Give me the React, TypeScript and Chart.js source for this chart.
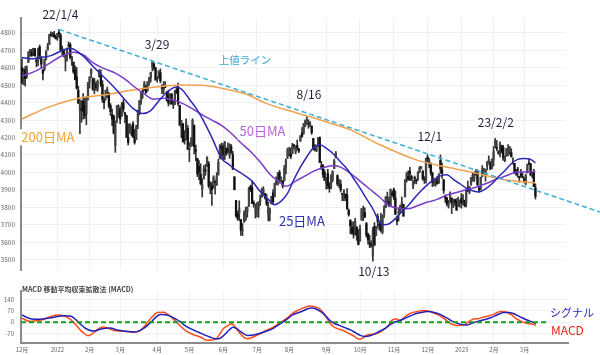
import React, { useEffect, useRef } from 'react';
import { Chart, registerables } from 'chart.js';
Chart.register(...registerables);

const FONT = "'Noto Sans CJK JP', 'Noto Sans', sans-serif";

// ---- Daily candles (S&P 500, 2021/12/1 – 2023/3/10), x = trading-day index ----
const opens = [
  4602,4504,4590,4549,4631,4690,4691,4688,4710,4642,4637,4720,4652,4587,4595,4650,4703,4733,4795,4788,4795,4776,
  4778,4804,4787,4693,4698,4655,4669,4729,4733,4637,4633,4588,4548,4471,4357,4366,4409,4380,4337,4431,
  4519,4566,4536,4482,4505,4480,4548,4554,4506,4413,4430,4464,4456,4385,4333,4324,4155,4298,4354,
  4363,4323,4401,4342,4327,4202,4224,4253,4279,4202,4188,4288,4345,4407,4462,4470,4493,4469,4523,4541,4603,4624,4599,
  4540,4547,4572,4495,4475,4495,4462,4437,4395,4449,4385,4390,4473,4490,4385,4256,4279,4187,4222,4253,
  4131,4159,4181,4271,4129,4081,4035,3990,3903,3963,4013,4052,4051,3899,3927,3920,3943,3929,3985,4078,4151,
  4149,4095,4137,4134,4097,4148,4102,3975,3839,3763,3765,3729,3665,3715,3733,3775,3805,3920,3913,3825,3785,
  3782,3792,3831,3858,3888,3880,3851,3762,3764,3820,3883,3860,3935,3955,4000,3965,3953,3951,4026,4087,
  4113,4105,4107,4155,4115,4155,4134,4181,4227,4225,4269,4290,4281,4273,4266,4195,4133,4126,4154,4199,4034,4041,4000,
  3936,3994,3930,3910,3959,4022,4084,3982,3940,3933,3880,3849,3875,3872,3782,3727,3682,3686,3651,3687,3633,
  3609,3726,3753,3771,3706,3647,3595,3590,3520,3690,3638,3746,3696,3706,3657,3762,3799,3825,3834,3809,3881,
  3901,3853,3733,3767,3780,3818,3817,3859,3964,3978,4007,3977,3919,3967,3957,3956,4001,4024,4005,3965,3957,
  4087,4040,4053,3996,3933,3947,3954,3940,4069,4015,3959,3864,3854,3810,3839,3853,3816,3843,3829,3805,3830,
  3853,3840,3840,3823,3910,3889,3932,3977,3961,3999,4003,3912,3910,3979,4001,3982,4037,4054,4050,4021,
  4070,4158,4137,4119,4105,4153,4144,4069,4096,4126,4119,4114,4078,4052,4001,4018,3973,3992,3977,
  3964,3938,3999,4055,4048,3987,3998,3912,
];
const highs = [
  4652,4595,4608,4612,4694,4706,4706,4713,4711,4660,4713,4731,4666,4591,4651,4698,4741,4791,4807,4804,4809,4787,
  4797,4819,4797,4725,4708,4673,4714,4749,4744,4666,4633,4612,4603,4495,4418,4412,4453,4428,4432,4516,
  4550,4595,4543,4540,4521,4531,4590,4589,4527,4427,4472,4490,4456,4395,4363,4329,4295,4385,4388,
  4375,4401,4417,4343,4327,4277,4279,4268,4291,4247,4272,4358,4412,4465,4481,4522,4501,4520,4546,4575,4637,4627,4604,
  4550,4583,4594,4504,4521,4521,4464,4472,4453,4453,4411,4471,4489,4513,4386,4300,4280,4240,4308,4269,
  4169,4200,4308,4271,4157,4081,4068,4050,3964,4039,4046,4090,4063,3946,3944,3981,3956,3999,4075,4158,4169,
  4166,4177,4142,4169,4164,4160,4120,3975,3839,3778,3837,3729,3707,3779,3801,3803,3913,3927,3946,3837,3818,
  3826,3832,3870,3910,3918,3880,3874,3829,3796,3863,3902,3939,3975,3999,4012,3975,3953,4040,4078,4140,
  4144,4140,4167,4161,4152,4186,4138,4211,4257,4280,4301,4325,4302,4292,4266,4195,4159,4156,4200,4204,4063,4045,4015,
  3970,4018,3942,3987,4010,4076,4119,3986,3961,3956,3880,3900,3877,3907,3790,3727,3716,3717,3736,3687,3672,
  3698,3793,3807,3797,3713,3652,3640,3608,3685,3712,3689,3762,3719,3765,3757,3810,3862,3887,3859,3905,3893,
  3911,3894,3750,3796,3813,3859,3817,3959,4002,4009,4029,3984,3954,3979,3962,4004,4034,4035,4013,3976,4080,
  4101,4080,4053,4002,3957,3966,3977,3991,4100,4053,3959,3870,3855,3839,3889,3853,3846,3847,3849,3858,3840,
  3879,3873,3840,3907,3950,3919,3970,3998,4003,4016,4015,3923,3973,4039,4024,4019,4061,4095,4063,4077,
  4149,4195,4183,4125,4176,4156,4156,4095,4138,4159,4148,4136,4081,4052,4017,4029,3978,4018,3997,
  3972,3990,4048,4079,4051,4000,4018,3934,
];
const lows = [
  4510,4504,4495,4540,4631,4667,4667,4671,4666,4606,4612,4651,4600,4531,4583,4645,4703,4733,4780,4778,4775,4766,
  4758,4774,4700,4671,4663,4582,4638,4718,4651,4614,4568,4531,4477,4395,4222,4288,4305,4309,4273,4414,
  4484,4544,4470,4451,4471,4465,4548,4492,4402,4365,4415,4429,4370,4327,4268,4221,4115,4286,4315,
  4279,4323,4345,4285,4200,4157,4224,4209,4200,4162,4187,4251,4330,4390,4425,4469,4455,4465,4501,4518,4582,4588,4530,
  4518,4539,4514,4452,4450,4485,4408,4381,4392,4392,4367,4390,4452,4385,4268,4200,4175,4162,4188,4131,
  4062,4147,4152,4106,4067,3976,3959,3928,3859,3963,3983,4033,3911,3877,3810,3909,3875,3925,3985,4078,4083,
  4073,4074,4098,4110,4080,4107,4017,3900,3743,3725,3723,3639,3637,3715,3723,3743,3805,3889,3820,3800,3738,
  3745,3742,3810,3858,3876,3847,3809,3722,3721,3818,3818,3860,3929,3927,3938,3946,3911,3951,3992,4079,
  4096,4079,4107,4135,4107,4128,4113,4177,4201,4219,4262,4277,4253,4262,4218,4129,4124,4119,4148,4057,4017,3971,3954,
  3904,3907,3886,3906,3945,4022,4083,3923,3914,3887,3838,3838,3837,3789,3749,3648,3644,3623,3640,3610,3584,
  3604,3726,3723,3739,3628,3588,3568,3571,3491,3579,3638,3679,3668,3657,3647,3741,3799,3825,3803,3809,3863,
  3843,3758,3699,3721,3765,3787,3749,3859,3944,3956,3953,3954,3907,3935,3934,3956,3998,4020,3955,3937,3938,
  4059,4026,3984,3918,3922,3921,3933,3937,3994,3965,3879,3828,3807,3795,3828,3764,3798,3809,3783,3805,3801,
  3795,3815,3802,3802,3890,3877,3925,3950,3947,3984,3926,3886,3899,3974,3990,3949,4014,4048,4017,4021,
  4037,4141,4124,4104,4089,4111,4069,4061,4092,4095,4103,4089,4047,3995,3982,3972,3944,3973,3968,
  3939,3928,3996,4044,3980,3969,3918,3847,
];
const closes = [
  4513,4577,4538,4592,4686,4701,4668,4712,4669,4635,4710,4669,4621,4568,4649,4697,4726,4791,4786,4793,4778,4766,
  4797,4794,4701,4696,4677,4670,4713,4726,4659,4662,4577,4533,4483,4398,4410,4357,4350,4326,4432,4516,
  4546,4589,4477,4501,4484,4522,4587,4504,4419,4401,4472,4475,4380,4349,4305,4226,4288,4385,4374,
  4306,4387,4363,4329,4201,4171,4278,4260,4204,4173,4262,4357,4412,4463,4461,4512,4456,4520,4543,4575,4632,4602,4530,
  4546,4583,4525,4481,4500,4488,4413,4397,4447,4392,4392,4463,4459,4394,4272,4296,4175,4183,4288,4132,
  4155,4175,4300,4147,4123,3991,4001,3935,3930,4024,4008,4088,3923,3901,3901,3974,3941,3979,4058,4158,4132,
  4101,4177,4109,4121,4161,4116,4018,3901,3750,3735,3790,3667,3675,3765,3760,3796,3912,3900,3822,3819,3785,
  3825,3831,3845,3903,3899,3855,3819,3801,3790,3863,3831,3937,3960,3999,3962,3967,3921,4024,4072,4130,
  4119,4091,4155,4152,4145,4140,4122,4210,4207,4280,4297,4305,4275,4284,4228,4138,4128,4141,4200,4058,4031,3986,3955,
  3967,3924,3909,3980,4006,4067,4110,3933,3946,3901,3873,3900,3856,3790,3758,3693,3655,3647,3720,3640,3586,
  3678,3791,3783,3745,3640,3612,3589,3577,3670,3583,3677,3720,3695,3666,3753,3797,3859,3831,3808,3901,3872,
  3856,3760,3720,3771,3807,3828,3749,3957,3993,3957,3992,3959,3947,3965,3950,4003,4027,4026,3964,3958,4080,
  4077,4072,3999,3942,3933,3964,3934,3991,4019,3996,3896,3852,3818,3821,3879,3822,3845,3829,3783,3849,3840,
  3825,3853,3809,3895,3893,3919,3970,3983,3999,3991,3929,3899,3973,4020,4017,4016,4060,4071,4018,4077,
  4119,4180,4136,4111,4164,4118,4082,4090,4137,4136,4148,4090,4079,3997,3991,4012,3970,3982,3970,
  3951,3982,4045,4048,3986,3992,3918,3862,
];

// ---- Moving averages (sparse points: trading-day index / value) ----
const ma25Idx = [0,6,12,18,24,30,35,40,45,50,55,60,65,70,75,80,85,90,96,100,104,108,112,118,124,128,132,138,143,148,153,157,161,165,169,173,177,181,185,189,193,198,202,206,210,214,218,222,225,228,232,236,240,244,248,252,256,260,264,268,272,276,280,284,288,292,296,300,304,308,312,316,319];
const ma25Val = [4660,4652,4660,4670,4695,4712,4690,4650,4600,4555,4510,4460,4405,4360,4338,4355,4410,4460,4490,4470,4420,4370,4310,4200,4080,4050,4020,3985,3950,3890,3845,3815,3835,3880,3960,4030,4090,4140,4158,4140,4110,4060,4020,3965,3910,3850,3790,3720,3700,3705,3735,3775,3810,3855,3895,3930,3960,3980,3986,3960,3935,3910,3895,3888,3905,3935,3975,4010,4050,4075,4080,4075,4055];
const ma50Idx = [0,8,16,24,32,38,44,50,58,64,70,76,82,88,94,100,106,112,118,124,130,136,142,148,154,160,164,170,176,182,188,194,198,204,210,216,222,228,234,240,246,252,258,264,270,276,282,288,294,300,306,312,319];
const ma50Val = [4553,4580,4620,4665,4690,4675,4630,4600,4570,4535,4490,4450,4420,4425,4415,4395,4365,4330,4300,4270,4225,4170,4120,4060,3990,3945,3920,3950,3980,4010,4030,4040,4030,3995,3950,3905,3860,3810,3795,3792,3810,3830,3845,3870,3885,3900,3915,3935,3958,3978,3998,4003,4005];
const ma200Idx = [0,17,36,52,67,83,98,111,123,139,151,163,179,191,204,222,245,263,281,300,319];
const ma200Val = [4307,4376,4427,4445,4470,4490,4502,4500,4485,4450,4399,4362,4319,4284,4244,4160,4072,4032,3998,3958,3940];

// ---- Resistance line (上値ライン): from 22/1/4 high, extended to the right edge ----
const trendIdx = [23, 360];
const trendVal = [4820, 3770];

// ---- MACD panel ----
const macdIdx = [0,5,10,14,18,22,26,29,32,35,38,41,44,47,50,53,57,61,65,69,73,76,78,81,84,88,91,94,98,102,106,111,115,118,121,123,125,128,130,132,135,138,140,144,148,152,156,160,165,168,171,175,179,182,185,187,189,191,193,196,199,203,206,208,210,212,214,217,220,224,227,230,232,235,238,241,245,249,253,256,260,263,266,270,274,277,280,283,286,290,293,297,301,304,307,310,314,317,319];
const macdVal = [25,5,10,20,35,45,40,25,0,-35,-65,-84,-70,-45,-30,-35,-52,-55,-58,-62,-55,-25,0,35,60,62,45,19,-20,-56,-75,-93,-112,-110,-100,-70,-40,-20,-10,-25,-65,-95,-103,-90,-70,-50,-30,-5,28,55,72,90,100,95,82,60,28,0,-25,-40,-50,-70,-85,-100,-105,-95,-80,-75,-72,-50,-25,15,20,10,35,55,65,72,68,55,37,15,-8,-20,-18,0,18,22,30,40,50,66,62,45,20,5,-8,-12,-20];
const sigIdx = [0,3,6,10,14,18,22,26,30,33,36,39,42,45,48,52,55,58,62,66,70,73,76,80,83,86,89,92,95,98,101,104,108,111,114,117,120,122,125,127,129,131,133,136,140,144,148,152,156,159,162,165,168,171,174,177,180,183,186,189,191,194,197,200,204,207,210,213,216,219,222,226,229,232,235,239,243,247,252,256,260,264,268,272,276,279,283,287,291,295,299,302,305,309,312,315,319];
const sigVal = [45,30,20,18,22,27,35,40,38,20,-10,-35,-50,-55,-45,-38,-36,-45,-53,-58,-60,-52,-35,0,30,47,46,38,22,5,-20,-37,-55,-68,-82,-93,-102,-103,-85,-65,-45,-32,-38,-60,-82,-80,-68,-55,-38,-18,0,22,45,57,68,82,88,80,62,35,12,-8,-20,-32,-48,-65,-82,-88,-84,-72,-56,-35,-12,3,12,30,47,58,66,60,47,25,2,-12,-18,-8,5,15,28,45,60,60,54,35,20,8,-8];
const zeroIdx = [-0.6, 326];
const zeroVal = [0, 0];

// ---- Axes ----
const monthIdx = [0,22,42,61,84,104,125,146,166,189,210,231,252,273,293,312];
const monthLabels = ['12月','2022','2月','3月','4月','5月','6月','7月','8月','9月','10月','11月','12月','2023','2月','3月'];
const priceTicks = [3500,3600,3700,3800,3900,4000,4100,4200,4300,4400,4500,4600,4700,4800];
const macdTicks = [140,70,0,-70];

const pts = (xs: number[], ys: number[]) => xs.map((x, k) => ({ x, y: ys[k] }));

type Lbl = { text: string; i?: number; v?: number; px?: number; py?: number; color: string; size: number; bg?: boolean; align?: CanvasTextAlign; weight?: string };

function makeLabelPlugin(items: Lbl[]) {
  return {
    id: 'textLabels',
    afterDraw(chart: any) {
      const ctx = chart.ctx as CanvasRenderingContext2D;
      const xs = chart.scales.x, ys = chart.scales.y;
      ctx.save();
      for (const it of items) {
        ctx.font = `${it.weight || 'normal'} ${it.size}px ${FONT}`;
        const px = it.px !== undefined ? it.px : xs.getPixelForValue(it.i);
        const py = it.py !== undefined ? it.py : ys.getPixelForValue(it.v);
        const w = ctx.measureText(it.text).width;
        const align = it.align || 'center';
        const left = align === 'center' ? px - w / 2 : px;
        if (it.bg) {
          ctx.fillStyle = '#ffffff';
          ctx.fillRect(left - 2, py - it.size / 2 - 1, w + 4, it.size + 3);
        }
        ctx.fillStyle = it.color;
        ctx.textAlign = align;
        ctx.textBaseline = 'middle';
        ctx.fillText(it.text, px, py);
      }
      ctx.restore();
    },
  };
}

const mainLabels: Lbl[] = [
  { text: '22/1/4', i: 23.9, v: 4909, color: '#1f1f3d', size: 12, bg: true },
  { text: '3/29', i: 83.9, v: 4737, color: '#1f1f3d', size: 12, bg: true },
  { text: '上値ライン', i: 138.5, v: 4645, color: '#3aa6d6', size: 10.5, bg: true },
  { text: '8/16', i: 178.3, v: 4450, color: '#1f1f3d', size: 12, bg: true },
  { text: '12/1', i: 253.4, v: 4204, color: '#1f1f3d', size: 12, bg: true },
  { text: '23/2/2', i: 294.4, v: 4284, color: '#1f1f3d', size: 12, bg: true },
  { text: '10/13', i: 218.6, v: 3430, color: '#1f1f3d', size: 12, bg: true },
  { text: '200日MA', i: 16.1, v: 4204, color: '#f2a136', size: 13, bg: true },
  { text: '50日MA', i: 149.4, v: 4238, color: '#b466d8', size: 13, bg: true },
  { text: '25日MA', i: 173.9, v: 3723, color: '#3232b0', size: 13, bg: true },
];

const macdLabels: Lbl[] = [
  { text: 'MACD 移動平均収束拡散法 (MACD)', px: 22, py: 9, color: '#444', size: 7, align: 'left', weight: 'bold' },
  { text: 'シグナル', px: 550, py: 33, color: '#2424c4', size: 11, align: 'left' },
  { text: 'MACD', px: 551, py: 50, color: '#e8261c', size: 12, align: 'left' },
];

export default function App() {
  const r1 = useRef<HTMLCanvasElement>(null);
  const r2 = useRef<HTMLCanvasElement>(null);

  useEffect(() => {
    Chart.defaults.font.family = FONT;
    const wick = closes.map((c, k) => ({ x: k, y: [lows[k], highs[k]] }));
    const body = closes.map((c, k) => ({ x: k, y: [Math.min(opens[k], c), Math.max(opens[k], c)] }));
    const bodyColors = closes.map((c, k) => (c >= opens[k] ? '#444' : '#111'));
    const grid = '#efeff5';
    const plain = (v: any) => String(v);

    const c1 = new Chart(r1.current as HTMLCanvasElement, {
      type: 'bar',
      data: {
        datasets: [
          { type: 'bar', label: 'wick', data: wick as any, backgroundColor: '#333', barThickness: 1, grouped: false, order: 6 } as any,
          { type: 'bar', label: 'body', data: body as any, backgroundColor: bodyColors, barThickness: 1.6, minBarLength: 1, grouped: false, order: 5 } as any,
          { type: 'line', label: '200日MA', data: pts(ma200Idx, ma200Val), borderColor: '#f3a24c', borderWidth: 1.5, pointRadius: 0, tension: 0.4, cubicInterpolationMode: 'monotone', order: 4 } as any,
          { type: 'line', label: '50日MA', data: pts(ma50Idx, ma50Val), borderColor: '#7a3cc8', borderWidth: 1.5, pointRadius: 0, tension: 0.4, cubicInterpolationMode: 'monotone', order: 3 } as any,
          { type: 'line', label: '25日MA', data: pts(ma25Idx, ma25Val), borderColor: '#2a28b4', borderWidth: 1.5, pointRadius: 0, tension: 0.4, cubicInterpolationMode: 'monotone', order: 2 } as any,
          { type: 'line', label: '上値ライン', data: pts(trendIdx, trendVal), borderColor: '#3aaed8', borderWidth: 1.5, borderDash: [5, 3], pointRadius: 0, clip: false, order: 1 } as any,
        ],
      },
      options: {
        responsive: false,
        animation: false,
        events: [],
        layout: { padding: { top: 18, right: 34, bottom: 10, left: 0 } },
        plugins: { legend: { display: false }, tooltip: { enabled: false } },
        scales: {
          x: {
            type: 'linear', min: -0.6, max: 338, offset: false,
            grid: { color: grid, drawTicks: false, offset: false },
            border: { display: false },
            ticks: { display: false },
            afterBuildTicks: (s: any) => { s.ticks = monthIdx.map((v) => ({ value: v })); },
            afterFit: (s: any) => { s.height = 0; },
          },
          y: {
            min: 3440, max: 4886,
            grid: { color: grid, drawTicks: false },
            border: { color: '#8a8a8a', width: 2 },
            ticks: { font: { size: 6.5 }, color: '#666', padding: 6, callback: plain },
            afterBuildTicks: (s: any) => { s.ticks = priceTicks.map((v) => ({ value: v })); },
            afterFit: (s: any) => { s.width = 21; },
          },
        },
      } as any,
      plugins: [makeLabelPlugin(mainLabels)],
    });

    const c2 = new Chart(r2.current as HTMLCanvasElement, {
      type: 'line',
      data: {
        datasets: [
          { label: 'zero', data: pts(zeroIdx, zeroVal), borderColor: '#1e9a1e', borderWidth: 2, borderDash: [5, 3], pointRadius: 0, clip: false, order: 0 } as any,
          { label: 'MACD', data: pts(macdIdx, macdVal), borderColor: '#ff4d1a', borderWidth: 1.5, pointRadius: 0, tension: 0.4, cubicInterpolationMode: 'monotone', order: 2 } as any,
          { label: 'シグナル', data: pts(sigIdx, sigVal), borderColor: '#2020b8', borderWidth: 1.5, pointRadius: 0, tension: 0.4, cubicInterpolationMode: 'monotone', order: 1 } as any,
        ],
      },
      options: {
        responsive: false,
        animation: false,
        events: [],
        layout: { padding: { top: 5, right: 32, bottom: 0, left: 0 } },
        plugins: { legend: { display: false }, tooltip: { enabled: false } },
        scales: {
          x: {
            type: 'linear', min: -0.6, max: 339,
            grid: { color: '#f3f3f7', drawTicks: false },
            border: { color: '#8a8a8a', width: 2 },
            ticks: { font: { size: 6 }, color: '#666', padding: 3, maxRotation: 0, autoSkip: false, callback: (_v: any, i: number) => monthLabels[i] },
            afterBuildTicks: (s: any) => { s.ticks = monthIdx.map((v) => ({ value: v })); },
            afterFit: (s: any) => { s.height = 12; },
          },
          y: {
            min: -129, max: 196,
            grid: { color: grid, drawTicks: false },
            border: { color: '#8a8a8a', width: 2 },
            ticks: { font: { size: 6 }, color: '#666', padding: 7, callback: plain },
            afterBuildTicks: (s: any) => { s.ticks = macdTicks.map((v) => ({ value: v })); },
            afterFit: (s: any) => { s.width = 21; },
          },
        },
      } as any,
      plugins: [makeLabelPlugin(macdLabels)],
    });

    return () => { c1.destroy(); c2.destroy(); };
  }, []);

  return (
    <div style={{ position: 'absolute', left: 0, top: 0, width: 600, height: 355, background: '#fff', overflow: 'hidden' }}>
      <canvas ref={r1} width={600} height={280} style={{ position: 'absolute', left: 0, top: 0 }} />
      <canvas ref={r2} width={600} height={75} style={{ position: 'absolute', left: 0, top: 280 }} />
    </div>
  );
}
